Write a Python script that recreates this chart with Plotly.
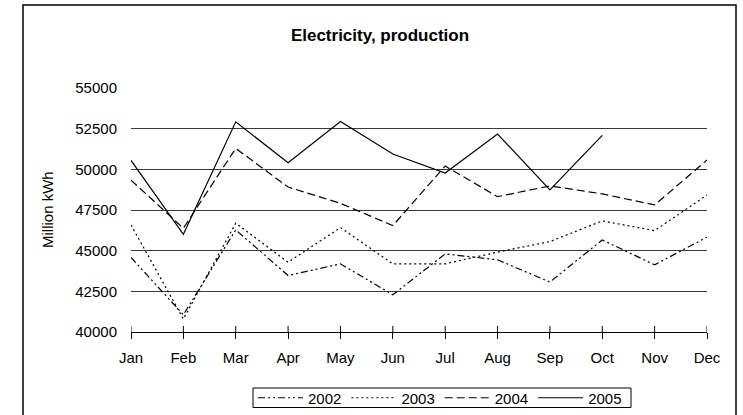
import plotly.graph_objects as go

months = ["Jan", "Feb", "Mar", "Apr", "May", "Jun", "Jul", "Aug", "Sep", "Oct", "Nov", "Dec"]
y2002 = [44580, 41060, 46280, 43470, 44190, 42290, 44800, 44440, 43070, 45660, 44130, 45830]
y2003 = [46580, 40800, 46690, 44290, 46420, 44190, 44190, 44910, 45560, 46830, 46230, 48420]
y2004 = [49340, 46380, 51290, 48910, 47910, 46540, 50200, 48320, 48980, 48490, 47810, 50570]
y2005 = [50550, 46010, 52920, 50400, 52940, 50940, 49770, 52170, 48730, 52090]
series = [("2002", y2002, "7px,3px,2px,3px,2px,3px"),
          ("2003", y2003, "2px,3px"),
          ("2004", y2004, "8px,4px"),
          ("2005", y2005, "solid")]

W, H = 743, 415
L, R, T, B = 131, 36, 88, 83
pw, ph = W - L - R, H - T - B

def px_x(p):
    return (p - L) / pw

def px_y(p):
    return (H - B - p) / ph

FONT = "Liberation Sans, Arial, sans-serif"

fig = go.Figure()
for name, vals, dash in series:
    fig.add_trace(go.Scatter(
        x=months[:len(vals)], y=vals, name=name, mode="lines",
        line=dict(color="black", width=1.2, dash=dash),
        cliponaxis=False,
    ))

# inner half of the crossing tick marks
for m in months:
    fig.add_shape(type="line", xref="x", yref="y domain", x0=m, x1=m,
                  y0=0, y1=6 / ph, line=dict(color="black", width=1))

# outer frame
fig.add_shape(type="rect", xref="paper", yref="paper",
              x0=px_x(23), x1=px_x(736), y0=px_y(430), y1=px_y(5),
              line=dict(color="black", width=1.5), fillcolor="rgba(0,0,0,0)")

# legend box
fig.add_shape(type="rect", xref="paper", yref="paper",
              x0=px_x(253), x1=px_x(631), y0=px_y(407.5), y1=px_y(388),
              line=dict(color="black", width=1), fillcolor="rgba(0,0,0,0)")

fig.add_annotation(text="Million kWh", xref="paper", yref="paper",
                   x=px_x(47), y=px_y(210), xanchor="center", yanchor="middle",
                   textangle=-90, showarrow=False,
                   font=dict(size=15, color="black", family=FONT))

fig.update_layout(
    width=W, height=H,
    margin=dict(l=L, r=R, t=T, b=B, autoexpand=False),
    paper_bgcolor="white", plot_bgcolor="white",
    font=dict(family=FONT, size=15, color="black"),
    title=dict(text="<b>Electricity, production</b>", x=380 / W, xanchor="center",
               y=1 - 35 / H, yanchor="middle", font=dict(size=17, family=FONT)),
    showlegend=True,
    legend=dict(orientation="h", x=px_x(253), xanchor="left", y=px_y(398), yanchor="middle",
                borderwidth=0, bgcolor="rgba(0,0,0,0)",
                font=dict(size=15), itemwidth=45, tracegroupgap=0),
)
fig.update_xaxes(type="category", categoryorder="array", categoryarray=months,
                 range=[0, 11], showgrid=False, showline=True, linecolor="black", linewidth=1,
                 ticks="outside", ticklen=6, tickcolor="black", tickwidth=1,
                 ticklabelstandoff=6, zeroline=False)
fig.update_yaxes(range=[40000, 55000], tickvals=[40000, 42500, 45000, 47500, 50000, 52500, 55000],
                 showgrid=True, gridcolor="#3a3a3a", gridwidth=1, showline=False, zeroline=False,
                 ticks="", ticklabelstandoff=13, tickformat="d")

fig.write_html("out.html", config={"displayModeBar": False},
               post_script="document.body.style.margin='0';document.body.style.overflow='hidden';")
